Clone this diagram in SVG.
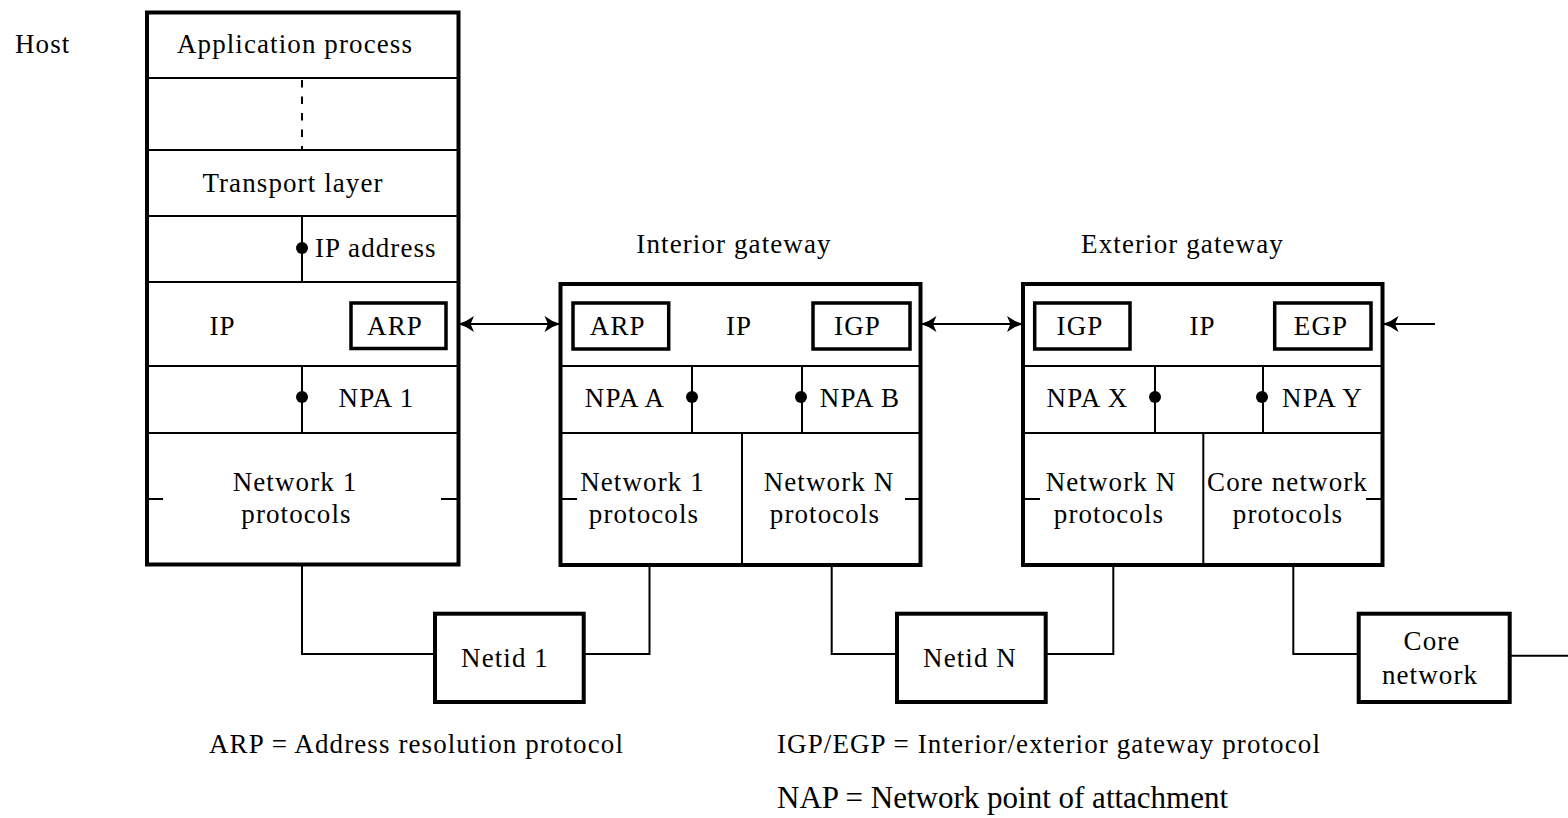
<svg xmlns="http://www.w3.org/2000/svg" width="1568" height="818" viewBox="0 0 1568 818">
<defs>
<style>
.bg{fill:#fff}
.outer{fill:#fff;stroke:#000;stroke-width:4}
.inner{fill:none;stroke:#000;stroke-width:3.5}
.thin{fill:none;stroke:#000;stroke-width:2}
.dash{fill:none;stroke:#000;stroke-width:2;stroke-dasharray:7.5 9}
.dot{fill:#000}
text{font-family:"Liberation Serif","Times New Roman",serif;font-size:27px;fill:#000;letter-spacing:1.1px}
.c{text-anchor:middle}
.big{font-size:31px;letter-spacing:0}
</style>
<marker id="ah" markerUnits="userSpaceOnUse" markerWidth="18" markerHeight="18" refX="17" refY="9" orient="auto-start-reverse" viewBox="0 0 18 18">
<path d="M17,9 L9,6 L1,1 L4,8 L4,10 L1,17 L9,12 Z" fill="#000"/>
</marker>
</defs>
<rect class="bg" x="0" y="0" width="1568" height="818"/>

<text x="15" y="53">Host</text>

<g id="host">
<rect class="outer" x="147" y="12.5" width="311.5" height="552"/>
<line class="thin" x1="147" y1="78" x2="458" y2="78"/>
<line class="thin" x1="147" y1="150" x2="458" y2="150"/>
<line class="thin" x1="147" y1="216" x2="458" y2="216"/>
<line class="thin" x1="147" y1="282" x2="458" y2="282"/>
<line class="thin" x1="147" y1="366" x2="458" y2="366"/>
<line class="thin" x1="147" y1="433" x2="458" y2="433"/>
<line class="dash" x1="302" y1="80" x2="302" y2="150"/>
<line class="thin" x1="302" y1="216" x2="302" y2="282"/>
<line class="thin" x1="302" y1="366" x2="302" y2="433"/>
<circle class="dot" cx="302" cy="248" r="6"/>
<circle class="dot" cx="302" cy="397" r="6"/>
<rect class="inner" x="351" y="303" width="95" height="45.5"/>
<line class="thin" x1="147" y1="499" x2="163" y2="499"/>
<line class="thin" x1="441" y1="499" x2="458" y2="499"/>
<text class="c" x="295" y="53">Application process</text>
<text class="c" x="293" y="192">Transport layer</text>
<text x="315" y="257">IP address</text>
<text class="c" x="222.5" y="335">IP</text>
<text class="c" x="395" y="335">ARP</text>
<text class="c" x="376.5" y="407">NPA 1</text>
<text class="c" x="295" y="491">Network 1</text>
<text class="c" x="296.5" y="523">protocols</text>
</g>

<text class="c" x="734" y="253">Interior gateway</text>
<g id="interior">
<rect class="outer" x="560.5" y="284" width="360" height="281"/>
<line class="thin" x1="560.5" y1="366" x2="920.5" y2="366"/>
<line class="thin" x1="560.5" y1="433" x2="920.5" y2="433"/>
<line class="thin" x1="692" y1="366" x2="692" y2="433"/>
<line class="thin" x1="802" y1="366" x2="802" y2="433"/>
<line class="thin" x1="742" y1="433" x2="742" y2="565"/>
<circle class="dot" cx="692" cy="397" r="6"/>
<circle class="dot" cx="801" cy="397" r="6"/>
<rect class="inner" x="573" y="303" width="95.7" height="46"/>
<rect class="inner" x="813" y="303" width="97" height="46"/>
<line class="thin" x1="560.5" y1="499" x2="577" y2="499"/>
<line class="thin" x1="905" y1="499" x2="920.5" y2="499"/>
<text class="c" x="617.7" y="335">ARP</text>
<text class="c" x="739" y="335">IP</text>
<text class="c" x="857.5" y="335">IGP</text>
<text class="c" x="625" y="407">NPA  A</text>
<text class="c" x="860" y="407">NPA  B</text>
<text class="c" x="642.5" y="491">Network 1</text>
<text class="c" x="644" y="523">protocols</text>
<text class="c" x="829" y="491">Network  N</text>
<text class="c" x="825" y="523">protocols</text>
</g>

<text class="c" x="1182.5" y="253">Exterior gateway</text>
<g id="exterior">
<rect class="outer" x="1023" y="284" width="359.5" height="281"/>
<line class="thin" x1="1023" y1="366" x2="1382.5" y2="366"/>
<line class="thin" x1="1023" y1="433" x2="1382.5" y2="433"/>
<line class="thin" x1="1155" y1="366" x2="1155" y2="433"/>
<line class="thin" x1="1263" y1="366" x2="1263" y2="433"/>
<line class="thin" x1="1203.3" y1="433" x2="1203.3" y2="565"/>
<circle class="dot" cx="1155" cy="397" r="6"/>
<circle class="dot" cx="1262" cy="397" r="6"/>
<rect class="inner" x="1034.7" y="303" width="95.3" height="46"/>
<rect class="inner" x="1274.7" y="303" width="96.3" height="46"/>
<line class="thin" x1="1023" y1="499" x2="1040" y2="499"/>
<line class="thin" x1="1366" y1="499" x2="1382.5" y2="499"/>
<text class="c" x="1080" y="335">IGP</text>
<text class="c" x="1202.5" y="335">IP</text>
<text class="c" x="1321" y="335">EGP</text>
<text class="c" x="1087.5" y="407">NPA  X</text>
<text class="c" x="1322.5" y="407">NPA  Y</text>
<text class="c" x="1111" y="491">Network  N</text>
<text class="c" x="1109" y="523">protocols</text>
<text class="c" x="1287.5" y="491">Core network</text>
<text class="c" x="1288" y="523">protocols</text>
</g>

<g id="netid1">
<rect class="outer" x="435" y="613.7" width="148.7" height="88.3"/>
<text class="c" x="505" y="667">Netid 1</text>
</g>
<g id="netidN">
<rect class="outer" x="897" y="613.7" width="148.7" height="88.3"/>
<text class="c" x="970" y="667">Netid  N</text>
</g>
<g id="core">
<rect class="outer" x="1358.7" y="613.7" width="151" height="88.3"/>
<text class="c" x="1432" y="650">Core</text>
<text class="c" x="1430" y="684">network</text>
</g>

<g id="connectors">
<line class="thin" x1="458" y1="324" x2="560.5" y2="324" marker-start="url(#ah)" marker-end="url(#ah)"/>
<line class="thin" x1="920.5" y1="324" x2="1023" y2="324" marker-start="url(#ah)" marker-end="url(#ah)"/>
<line class="thin" x1="1435" y1="324" x2="1382.5" y2="324" marker-end="url(#ah)"/>
<polyline class="thin" points="302,565 302,654 435,654"/>
<polyline class="thin" points="583.7,654 649.5,654 649.5,565"/>
<polyline class="thin" points="831.7,565 831.7,654 897,654"/>
<polyline class="thin" points="1045.7,654 1113.3,654 1113.3,565"/>
<polyline class="thin" points="1293.3,565 1293.3,654 1358.7,654"/>
<line class="thin" x1="1509.7" y1="655.7" x2="1568" y2="655.7"/>
</g>

<text class="c" x="416.5" y="753">ARP = Address resolution protocol</text>
<text x="777" y="753">IGP/EGP = Interior/exterior gateway protocol</text>
<text class="big" x="777" y="808">NAP = Network point of attachment</text>
</svg>
